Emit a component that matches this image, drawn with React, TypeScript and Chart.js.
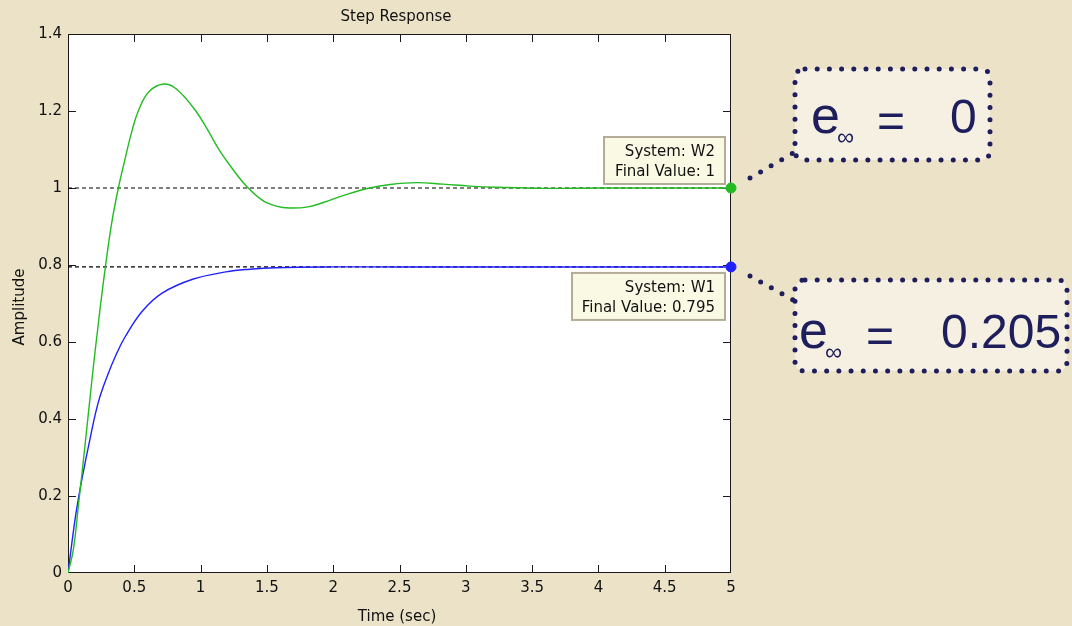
import React, { useEffect, useRef } from "react";
import { Chart, registerables } from "chart.js";

Chart.register(...registerables);

// ---------- text ----------
const titleText = "Step Response";
const xAxisTitle = "Time (sec)";
const yAxisTitle = "Amplitude";

// ---------- ticks ----------
const xTicks = [0, 0.5, 1, 1.5, 2, 2.5, 3, 3.5, 4, 4.5, 5];
const xTickLabels = ["0", "0.5", "1", "1.5", "2", "2.5", "3", "3.5", "4", "4.5", "5"];
const yTicks = [0, 0.2, 0.4, 0.6, 0.8, 1, 1.2, 1.4];
const yTickLabels = ["0", "0.2", "0.4", "0.6", "0.8", "1", "1.2", "1.4"];

// ---------- series ----------
const w2Time = [0, 0.04, 0.08, 0.13, 0.18, 0.23, 0.28, 0.33, 0.38, 0.43, 0.48, 0.53, 0.61, 0.72, 0.81, 0.94, 1.04, 1.14, 1.24, 1.35, 1.47, 1.57, 1.67, 1.81, 1.93, 2.08, 2.25, 2.43, 2.63, 2.83, 3.03, 3.23, 3.6, 4.0, 4.5, 5.0];
const w2Amp = [0, 0.06, 0.18, 0.337, 0.5, 0.652, 0.79, 0.91, 1.0, 1.075, 1.145, 1.2, 1.25, 1.27, 1.259, 1.211, 1.159, 1.099, 1.05, 1.003, 0.967, 0.953, 0.948, 0.951, 0.963, 0.981, 0.998, 1.009, 1.014, 1.01, 1.005, 1.002, 0.999, 1.0, 1.0, 1.0];

const w1Time = [0, 0.03, 0.06, 0.1, 0.17, 0.23, 0.3, 0.36, 0.43, 0.56, 0.71, 0.94, 1.19, 1.37, 1.57, 2.0, 2.5, 3.0, 4.0, 5.0];
const w1Amp = [0, 0.08, 0.155, 0.235, 0.355, 0.445, 0.515, 0.565, 0.613, 0.68, 0.727, 0.763, 0.782, 0.789, 0.793, 0.795, 0.795, 0.795, 0.795, 0.795];

const finalTime = 5;
const w2Final = 1;
const w1Final = 0.795;

const tipW2 = ["System: W2", "Final Value: 1"];
const tipW1 = ["System: W1", "Final Value: 0.795"];
const errSymbol = "e";
const errSub = "\u221E";
const errEq = "=";
const errW2 = "0";
const errW1 = "0.205";

// ---------- styles ----------
const BG = "#ece2c7";
const GREEN = "#22bb22";
const BLUE = "#2020ff";
const NAVY = "#1e1e5c";
const CALLOUT_FILL = "#f5f0e2";
const FONT = "'DejaVu Sans', sans-serif";

function roundRectPath(ctx: CanvasRenderingContext2D, x: number, y: number, w: number, h: number, r: number) {
  ctx.beginPath();
  ctx.moveTo(x + r, y);
  ctx.lineTo(x + w - r, y);
  ctx.quadraticCurveTo(x + w, y, x + w, y + r);
  ctx.lineTo(x + w, y + h - r);
  ctx.quadraticCurveTo(x + w, y + h, x + w - r, y + h);
  ctx.lineTo(x + r, y + h);
  ctx.quadraticCurveTo(x, y + h, x, y + h - r);
  ctx.lineTo(x, y + r);
  ctx.quadraticCurveTo(x, y, x + r, y);
  ctx.closePath();
}

function drawTip(ctx: CanvasRenderingContext2D, lines: string[], right: number, top: number, width: number) {
  const h = 49;
  ctx.save();
  ctx.fillStyle = "#fafae4";
  ctx.fillRect(right - width, top, width, h);
  ctx.strokeStyle = "#b3ac96";
  ctx.lineWidth = 2;
  ctx.strokeRect(right - width + 1, top + 1, width - 2, h - 2);
  ctx.fillStyle = "#111";
  ctx.font = `15px ${FONT}`;
  ctx.textAlign = "right";
  ctx.textBaseline = "alphabetic";
  ctx.fillText(lines[0], right - 11, top + 20);
  ctx.fillText(lines[1], right - 11, top + 40);
  ctx.restore();
}

function drawCallout(
  ctx: CanvasRenderingContext2D,
  box: { x: number; y: number; w: number; h: number },
  conn: [number, number, number, number],
  text: { ex: number; base: number; subx: number; eqx: number; valx: number; val: string }
) {
  ctx.save();
  roundRectPath(ctx, box.x, box.y, box.w, box.h, 10);
  ctx.fillStyle = CALLOUT_FILL;
  ctx.fill();
  ctx.strokeStyle = NAVY;
  ctx.lineWidth = 5;
  ctx.lineCap = "round";
  ctx.setLineDash([0, 12.2]);
  ctx.stroke();
  ctx.beginPath();
  ctx.moveTo(conn[0], conn[1]);
  ctx.lineTo(conn[2], conn[3]);
  ctx.stroke();
  ctx.setLineDash([]);
  ctx.fillStyle = NAVY;
  ctx.textAlign = "left";
  ctx.textBaseline = "alphabetic";
  ctx.font = `52px 'Liberation Sans', Arial, sans-serif`;
  ctx.fillText(errSymbol, text.ex, text.base);
  ctx.font = `24px 'Liberation Sans', Arial, sans-serif`;
  ctx.fillText(errSub, text.subx, text.base + 12);
  ctx.font = `48px 'Liberation Sans', Arial, sans-serif`;
  ctx.fillText(errEq, text.eqx, text.base + 4);
  ctx.fillText(text.val, text.valx, text.base);
  ctx.restore();
}

const decor = {
  id: "decor",
  beforeDraw(chart: any) {
    const { ctx, chartArea: a } = chart;
    ctx.save();
    ctx.fillStyle = BG;
    ctx.fillRect(0, 0, chart.width, chart.height);
    ctx.fillStyle = "#ffffff";
    ctx.fillRect(a.left, a.top, a.right - a.left, a.bottom - a.top);
    ctx.restore();
  },
  beforeDatasetsDraw(chart: any) {
    const { ctx, chartArea: a, scales } = chart;
    ctx.save();
    ctx.strokeStyle = "#1a1a1a";
    ctx.lineWidth = 1;
    ctx.strokeRect(a.left + 0.5, a.top + 0.5, a.right - a.left - 1, a.bottom - a.top - 1);
    ctx.beginPath();
    xTicks.slice(1, -1).forEach((v) => {
      const px = Math.round(scales.x.getPixelForValue(v)) + 0.5;
      ctx.moveTo(px, a.bottom);
      ctx.lineTo(px, a.bottom - 8);
      ctx.moveTo(px, a.top);
      ctx.lineTo(px, a.top + 8);
    });
    yTicks.slice(1, -1).forEach((v) => {
      const py = Math.round(scales.y.getPixelForValue(v)) + 0.5;
      ctx.moveTo(a.left, py);
      ctx.lineTo(a.left + 8, py);
      ctx.moveTo(a.right, py);
      ctx.lineTo(a.right - 8, py);
    });
    ctx.stroke();

    // titles
    ctx.fillStyle = "#111";
    ctx.font = `15px ${FONT}`;
    ctx.textAlign = "center";
    ctx.textBaseline = "alphabetic";
    ctx.fillText(titleText, 396, 21);
    ctx.fillText(xAxisTitle, 397, 621);
    ctx.translate(24, 307);
    ctx.rotate(-Math.PI / 2);
    ctx.fillText(yAxisTitle, 0, 0);
    ctx.restore();
  },
  afterDraw(chart: any) {
    const { ctx, scales } = chart;
    const mx = scales.x.getPixelForValue(finalTime);
    const m2 = scales.y.getPixelForValue(w2Final);
    const m1 = scales.y.getPixelForValue(w1Final);
    drawTip(ctx, tipW2, mx - 5, m2 - 52, 123);
    drawTip(ctx, tipW1, mx - 5, m1 + 5, 155);

    drawCallout(
      ctx,
      { x: 795, y: 69, w: 195, h: 91 },
      [750, 178, 795, 152],
      { ex: 811, base: 133, subx: 837, eqx: 877, valx: 950, val: errW2 }
    );
    drawCallout(
      ctx,
      { x: 795, y: 280, w: 272, h: 91 },
      [750, 276, 795, 301],
      { ex: 799, base: 348, subx: 825, eqx: 866, valx: 941, val: errW1 }
    );
  },
};

export default function App() {
  const ref = useRef<HTMLCanvasElement | null>(null);
  useEffect(() => {
    const canvas = ref.current;
    if (!canvas) return;
    const pts = (xs: number[], ys: number[]) => xs.map((x, i) => ({ x, y: ys[i] }));
    const chart = new Chart(canvas, {
      type: "line",
      data: {
        datasets: [
          {
            label: "W2 final",
            data: [{ x: finalTime, y: w2Final }],
            showLine: false,
            pointRadius: 5,
            pointBackgroundColor: GREEN,
            pointBorderColor: GREEN,
            clip: false as any,
            order: 0,
          },
          {
            label: "W1 final",
            data: [{ x: finalTime, y: w1Final }],
            showLine: false,
            pointRadius: 5,
            pointBackgroundColor: BLUE,
            pointBorderColor: BLUE,
            clip: false as any,
            order: 0,
          },
          {
            label: "W2",
            data: pts(w2Time, w2Amp),
            borderColor: GREEN,
            borderWidth: 1.4,
            pointRadius: 0,
            tension: 0.4,
            order: 1,
          },
          {
            label: "W1",
            data: pts(w1Time, w1Amp),
            borderColor: BLUE,
            borderWidth: 1.4,
            pointRadius: 0,
            tension: 0.4,
            order: 1,
          },
          {
            label: "W2 final line",
            data: [{ x: 0, y: w2Final }, { x: finalTime, y: w2Final }],
            borderColor: "#000",
            borderWidth: 1.2,
            borderDash: [4, 3],
            pointRadius: 0,
            order: 2,
          },
          {
            label: "W1 final line",
            data: [{ x: 0, y: w1Final }, { x: finalTime, y: w1Final }],
            borderColor: "#000",
            borderWidth: 1.2,
            borderDash: [4, 3],
            pointRadius: 0,
            order: 2,
          },
        ],
      },
      options: {
        responsive: false,
        animation: false,
        events: [],
        layout: { padding: { left: 0, top: 34, right: 341, bottom: 0 } },
        plugins: { legend: { display: false }, tooltip: { enabled: false }, title: { display: false } },
        scales: {
          x: {
            type: "linear",
            min: 0,
            max: 5,
            afterBuildTicks: (s: any) => {
              s.ticks = xTicks.map((v) => ({ value: v }));
            },
            afterFit: (s: any) => {
              s.height = 53;
            },
            ticks: {
              autoSkip: false,
              maxRotation: 0,
              padding: 6,
              color: "#111",
              font: { family: FONT, size: 15 },
              callback: (v: any) => xTickLabels[xTicks.indexOf(Number(v))] ?? "",
            },
            grid: { display: false, drawTicks: false },
            border: { display: false },
          },
          y: {
            type: "linear",
            min: 0,
            max: 1.4,
            afterBuildTicks: (s: any) => {
              s.ticks = yTicks.map((v) => ({ value: v }));
            },
            afterFit: (s: any) => {
              s.width = 68;
            },
            ticks: {
              autoSkip: false,
              padding: 6,
              color: "#111",
              font: { family: FONT, size: 15 },
              callback: (v: any) => yTickLabels[yTicks.indexOf(Number(v))] ?? "",
            },
            grid: { display: false, drawTicks: false },
            border: { display: false },
          },
        },
      } as any,
      plugins: [decor],
    });
    return () => chart.destroy();
  }, []);

  return (
    <div style={{ position: "fixed", left: 0, top: 0, width: 1072, height: 626, background: BG }}>
      <canvas ref={ref} width={1072} height={626} style={{ display: "block", width: 1072, height: 626 }} />
    </div>
  );
}
